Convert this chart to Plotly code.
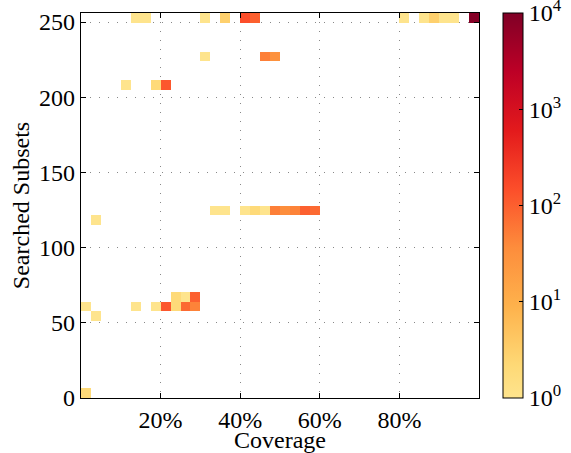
import numpy as np
import plotly.graph_objects as go

# Histogram cells: coverage (% bin centre), searched subsets (bin centre), count
coverage = [13.75, 16.25, 31.25, 36.25, 41.25, 43.75, 81.25, 86.25, 88.75, 91.25, 93.75, 98.75,
            31.25, 46.25, 48.75,
            11.25, 18.75, 21.25,
            33.75, 36.25, 41.25, 43.75, 46.25, 48.75, 51.25, 53.75, 56.25, 58.75,
            3.75,
            23.75, 26.25, 28.75,
            1.25, 13.75, 18.75, 21.25, 23.75, 26.25, 28.75,
            3.75,
            1.25]
subsets = [252.8] * 12 + [227.2] * 3 + [208.0] * 3 + [124.8] * 10 + [118.4] + [67.2] * 3 + [60.8] * 7 + [54.4] + [3.2]
counts = [1, 1, 1, 3, 150, 100, 1, 1, 3, 1, 1, 9000,
          1, 50, 30,
          1, 2, 120,
          1, 1, 1, 2, 1, 50, 35, 45, 100, 80,
          1,
          2, 1, 100,
          1, 1, 1, 120, 2, 80, 45,
          1,
          2]
cbar_exponents = [0, 1, 2, 3, 4]

n_bins = 40
x_step = 100 / n_bins
y_step = 256 / n_bins
x_centers = [x_step * (k + 0.5) for k in range(n_bins)]
y_centers = [y_step * (k + 0.5) for k in range(n_bins)]

z = [[None] * n_bins for _ in range(n_bins)]
for cx, cy, c in zip(coverage, subsets, counts):
    i = int(cx // x_step)
    j = int(cy // y_step)
    z[j][i] = float(np.log10(c))

base = [(255, 255, 204), (255, 237, 160), (254, 217, 118), (254, 178, 76), (253, 141, 60),
        (252, 78, 42), (227, 26, 28), (189, 0, 38), (128, 0, 38)]
t0 = 0.18
colorscale = [[0.0, "rgb(254,228,141)"]]
for k, col in enumerate(base):
    t = k / 8
    if t > t0:
        colorscale.append([(t - t0) / (1 - t0), "rgb(%d,%d,%d)" % col])

font_family = "Liberation Serif"
zmin, zmax = cbar_exponents[0], cbar_exponents[-1]

fig = go.Figure(go.Heatmap(
    x=x_centers, y=y_centers, z=z,
    zmin=zmin, zmax=zmax, colorscale=colorscale,
    hoverongaps=False,
    colorbar=dict(
        x=1.0615, xanchor="left", xpad=0, ypad=0,
        y=0.5, yanchor="middle", len=1, lenmode="fraction",
        thickness=20, outlinewidth=1, outlinecolor="black",
        tickmode="array",
        tickvals=cbar_exponents,
        ticktext=["10<sup>%d</sup>" % e for e in cbar_exponents],
        ticklabeloverflow="allow",
        ticks="inside", ticklen=4, tickcolor="black",
        tickfont=dict(family=font_family, size=24, color="black"),
    ),
))

axis_common = dict(
    ticks="inside", ticklen=5, tickcolor="black", mirror="allticks",
    showline=True, linecolor="black", linewidth=1.2,
    showgrid=True, gridcolor="#888888", griddash="1px,8px", gridwidth=1,
    zeroline=False, automargin=False,
    tickfont=dict(family=font_family, size=24, color="black"),
)

fig.update_layout(
    width=571, height=453,
    margin=dict(l=81, r=91.5, t=13, b=54.5, autoexpand=False),
    plot_bgcolor="white", paper_bgcolor="white",
    font=dict(family=font_family, color="black"),
    xaxis=dict(range=[0, 100], tickvals=[20, 40, 60, 80],
               ticktext=["20%", "40%", "60%", "80%"],
               title=dict(text="Coverage", font=dict(size=24), standoff=0),
               **axis_common),
    yaxis=dict(range=[0, 256], tickvals=[0, 50, 100, 150, 200, 250],
               title=dict(text="Searched Subsets", font=dict(size=24), standoff=2),
               **axis_common),
)

fig.write_html("out.html", config={"displayModeBar": False},
               post_script="document.body.style.margin='0';document.body.style.overflow='hidden';")
